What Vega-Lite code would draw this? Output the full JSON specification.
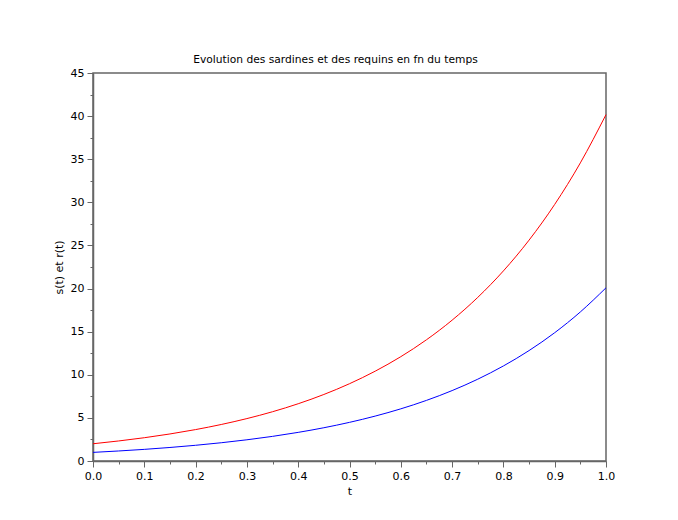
{
  "$schema": "https://vega.github.io/schema/vega-lite/v6.json",
  "width": 513,
  "height": 388,
  "autosize": {"type": "none"},
  "padding": {"left": 93, "top": 73, "right": 72, "bottom": 59},
  "background": "white",
  "title": {"text": "Evolution des sardines et des requins en fn du temps", "font": "DejaVu Sans", "fontSize": 10.7, "fontWeight": "normal", "color": "#000000", "offset": 1, "anchor": "middle", "dx": -14},
  "config": {"view": {"stroke": "#666666", "strokeWidth": 1.5}},
  "data": {"values": [
    {"t": 0.00, "v": 1.0000, "s": "b"}, {"t": 0.05, "v": 1.1618, "s": "b"}, {"t": 0.10, "v": 1.3499, "s": "b"},
    {"t": 0.15, "v": 1.5683, "s": "b"}, {"t": 0.20, "v": 1.8221, "s": "b"}, {"t": 0.25, "v": 2.1170, "s": "b"},
    {"t": 0.30, "v": 2.4596, "s": "b"}, {"t": 0.35, "v": 2.8577, "s": "b"}, {"t": 0.40, "v": 3.3201, "s": "b"},
    {"t": 0.45, "v": 3.8574, "s": "b"}, {"t": 0.50, "v": 4.4817, "s": "b"}, {"t": 0.55, "v": 5.2070, "s": "b"},
    {"t": 0.60, "v": 6.0496, "s": "b"}, {"t": 0.65, "v": 7.0287, "s": "b"}, {"t": 0.70, "v": 8.1662, "s": "b"},
    {"t": 0.75, "v": 9.4877, "s": "b"}, {"t": 0.80, "v": 11.0232, "s": "b"}, {"t": 0.85, "v": 12.8071, "s": "b"},
    {"t": 0.90, "v": 14.8797, "s": "b"}, {"t": 0.95, "v": 17.2878, "s": "b"}, {"t": 1.00, "v": 20.0855, "s": "b"},
    {"t": 0.00, "v": 2.0000, "s": "r"}, {"t": 0.05, "v": 2.3237, "s": "r"}, {"t": 0.10, "v": 2.6997, "s": "r"},
    {"t": 0.15, "v": 3.1366, "s": "r"}, {"t": 0.20, "v": 3.6442, "s": "r"}, {"t": 0.25, "v": 4.2340, "s": "r"},
    {"t": 0.30, "v": 4.9192, "s": "r"}, {"t": 0.35, "v": 5.7154, "s": "r"}, {"t": 0.40, "v": 6.6402, "s": "r"},
    {"t": 0.45, "v": 7.7148, "s": "r"}, {"t": 0.50, "v": 8.9634, "s": "r"}, {"t": 0.55, "v": 10.4140, "s": "r"},
    {"t": 0.60, "v": 12.0993, "s": "r"}, {"t": 0.65, "v": 14.0574, "s": "r"}, {"t": 0.70, "v": 16.3324, "s": "r"},
    {"t": 0.75, "v": 18.9754, "s": "r"}, {"t": 0.80, "v": 22.0464, "s": "r"}, {"t": 0.85, "v": 25.6142, "s": "r"},
    {"t": 0.90, "v": 29.7594, "s": "r"}, {"t": 0.95, "v": 34.5756, "s": "r"}, {"t": 1.00, "v": 40.1711, "s": "r"}
  ]},
  "mark": {"type": "line", "strokeWidth": 1, "interpolate": "monotone"},
  "encoding": {
    "x": {
      "field": "t", "type": "quantitative",
      "scale": {"domain": [0, 1], "nice": false, "zero": false},
      "axis": {
        "title": "t", "titleFont": "DejaVu Sans", "titleFontSize": 11, "titleFontWeight": "normal", "titleColor": "#000000", "titlePadding": 4,
        "values": [0, 0.05, 0.1, 0.15, 0.2, 0.25, 0.3, 0.35, 0.4, 0.45, 0.5, 0.55, 0.6, 0.65, 0.7, 0.75, 0.8, 0.85, 0.9, 0.95, 1.0],
        "labelExpr": "round(datum.value*100)%10==0 ? format(datum.value,'.1f') : ''",
        "labelFont": "DejaVu Sans", "labelFontSize": 11, "labelColor": "#000000", "labelPadding": 3,
        "grid": false, "domainColor": "#666666", "domainWidth": 1.5,
        "tickColor": "#666666", "tickWidth": 1,
        "tickSize": {"condition": {"test": "round(datum.value*100)%10==0", "value": 6}, "value": 3},
        "labelFlush": false, "labelOverlap": false
      }
    },
    "y": {
      "field": "v", "type": "quantitative",
      "scale": {"domain": [0, 45], "nice": false},
      "axis": {
        "title": "s(t) et r(t)", "titleFont": "DejaVu Sans", "titleFontSize": 11, "titleFontWeight": "normal", "titleColor": "#000000", "titlePadding": 6,
        "values": [0, 2.5, 5, 7.5, 10, 12.5, 15, 17.5, 20, 22.5, 25, 27.5, 30, 32.5, 35, 37.5, 40, 42.5, 45],
        "labelExpr": "datum.value%5==0 ? format(datum.value,'d') : ''",
        "labelFont": "DejaVu Sans", "labelFontSize": 11, "labelColor": "#000000", "labelPadding": 3,
        "grid": false, "domainColor": "#666666", "domainWidth": 1.5,
        "tickColor": "#666666", "tickWidth": 1,
        "tickSize": {"condition": {"test": "datum.value%5==0", "value": 6}, "value": 3},
        "labelFlush": false, "labelOverlap": false
      }
    },
    "color": {"field": "s", "type": "nominal", "scale": {"domain": ["b", "r"], "range": ["#0000ff", "#ff0000"]}, "legend": null}
  }
}
